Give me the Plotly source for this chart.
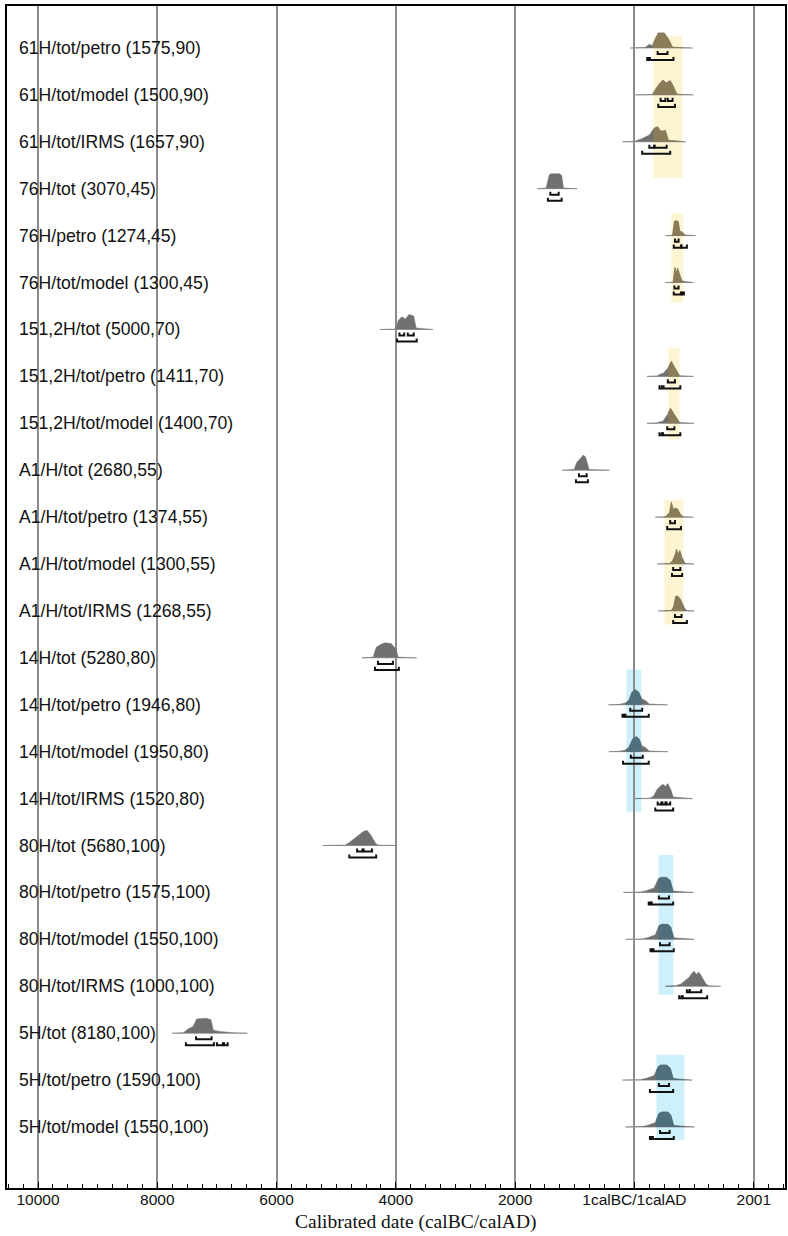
import numpy as np
import plotly.graph_objects as go

# ---------------- data ----------------
labels = [
    "61H/tot/petro (1575,90)", "61H/tot/model (1500,90)", "61H/tot/IRMS (1657,90)",
    "76H/tot (3070,45)", "76H/petro (1274,45)", "76H/tot/model (1300,45)",
    "151,2H/tot (5000,70)", "151,2H/tot/petro (1411,70)", "151,2H/tot/model (1400,70)",
    "A1/H/tot (2680,55)", "A1/H/tot/petro (1374,55)", "A1/H/tot/model (1300,55)",
    "A1/H/tot/IRMS (1268,55)", "14H/tot (5280,80)", "14H/tot/petro (1946,80)",
    "14H/tot/model (1950,80)", "14H/tot/IRMS (1520,80)", "80H/tot (5680,100)",
    "80H/tot/petro (1575,100)", "80H/tot/model (1550,100)", "80H/tot/IRMS (1000,100)",
    "5H/tot (8180,100)", "5H/tot/petro (1590,100)", "5H/tot/model (1550,100)",
]

# calibrated probability profiles (year AD, negative = BC) and relative heights
prof_x = [
    [-70, 180, 250, 300, 350, 400, 500, 570, 640, 975],
    [15, 300, 360, 420, 480, 530, 600, 650, 710, 990],
    [-200, 0, 120, 250, 330, 390, 440, 520, 570, 860],
    [-1630, -1480, -1430, -1400, -1260, -1220, -1190, -960],
    [520, 640, 670, 690, 735, 760, 800, 850, 1025],
    [520, 650, 665, 680, 700, 725, 760, 800, 990],
    [-4270, -4000, -3960, -3900, -3840, -3780, -3700, -3660, -3380],
    [210, 380, 430, 480, 560, 620, 660, 700, 760, 990],
    [210, 380, 430, 480, 550, 605, 650, 690, 760, 1000],
    [-1210, -1010, -970, -900, -860, -820, -790, -760, -420],
    [350, 520, 590, 620, 650, 680, 720, 770, 820, 990],
    [380, 590, 640, 690, 705, 730, 760, 800, 850, 1000],
    [400, 620, 660, 690, 720, 760, 800, 840, 880, 1000],
    [-4570, -4380, -4330, -4250, -4180, -4080, -4000, -3960, -3650],
    [-435, -250, -150, -90, -40, 20, 70, 120, 180, 250, 555],
    [-430, -250, -150, -90, -30, 30, 80, 120, 180, 250, 560],
    [15, 250, 320, 380, 440, 480, 520, 560, 610, 650, 975],
    [-5230, -4850, -4780, -4700, -4620, -4540, -4480, -4420, -4340, -4300, -3980],
    [-185, 100, 200, 260, 330, 400, 440, 540, 600, 650, 990],
    [-150, 130, 230, 290, 350, 410, 460, 560, 610, 660, 1000],
    [520, 690, 780, 860, 920, 960, 1000, 1040, 1080, 1120, 1200, 1250, 1445],
    [-7750, -7560, -7480, -7400, -7340, -7250, -7180, -7100, -7060, -6950, -6850, -6740, -6490],
    [-200, 100, 200, 260, 330, 400, 440, 540, 600, 650, 970],
    [-150, 130, 230, 290, 350, 410, 460, 560, 610, 660, 1010],
]
prof_h = [
    [0, 0.03, 0.25, 0.15, 0.6, 1, 1, 0.6, 0.05, 0],
    [0, 0.03, 0.4, 0.75, 1, 0.8, 0.95, 0.6, 0.05, 0],
    [0, 0.03, 0.2, 0.45, 0.9, 1, 0.7, 0.75, 0.1, 0],
    [0, 0.05, 0.9, 1, 1, 0.9, 0.05, 0],
    [0, 0.02, 0.95, 1, 0.95, 0.3, 0.25, 0.05, 0],
    [0, 0.02, 0.6, 1, 0.6, 0.95, 0.5, 0.1, 0],
    [0, 0.03, 0.6, 0.85, 0.7, 1, 0.9, 0.1, 0],
    [0, 0.03, 0.15, 0.2, 0.55, 1, 0.7, 0.45, 0.05, 0],
    [0, 0.03, 0.1, 0.15, 0.55, 1, 0.7, 0.45, 0.05, 0],
    [0, 0.05, 0.5, 0.8, 1, 0.9, 0.4, 0.05, 0],
    [0, 0.03, 0.3, 1, 0.5, 0.6, 0.55, 0.2, 0.03, 0],
    [0, 0.03, 0.2, 0.7, 1, 0.6, 0.9, 0.4, 0.05, 0],
    [0, 0.03, 0.3, 0.95, 1, 0.85, 0.55, 0.2, 0.03, 0],
    [0, 0.05, 0.7, 0.9, 1, 0.95, 0.6, 0.05, 0],
    [0, 0.03, 0.12, 0.3, 0.85, 1, 0.85, 0.4, 0.3, 0.05, 0],
    [0, 0.03, 0.12, 0.3, 0.85, 1, 0.85, 0.4, 0.3, 0.05, 0],
    [0, 0.03, 0.15, 0.6, 0.85, 0.95, 0.8, 1, 0.6, 0.1, 0],
    [0, 0.03, 0.2, 0.45, 0.7, 0.95, 1, 0.7, 0.15, 0.03, 0],
    [0, 0.03, 0.12, 0.2, 0.3, 0.9, 1, 1, 0.8, 0.1, 0],
    [0, 0.03, 0.12, 0.2, 0.3, 0.9, 1, 1, 0.8, 0.1, 0],
    [0, 0.03, 0.15, 0.4, 0.6, 0.85, 1, 0.8, 0.95, 0.7, 0.15, 0.03, 0],
    [0, 0.03, 0.3, 0.45, 0.95, 0.95, 1, 0.9, 0.2, 0.12, 0.08, 0.03, 0],
    [0, 0.03, 0.12, 0.2, 0.3, 0.9, 1, 1, 0.8, 0.1, 0],
    [0, 0.03, 0.12, 0.2, 0.3, 0.9, 1, 1, 0.8, 0.1, 0],
]

# highest posterior density ranges
range68 = [
    [(390, 555)], [(440, 520), (560, 640)], [(250, 330), (340, 540)],
    [(-1410, -1270)], [(680, 740)], [(670, 740)],
    [(-3940, -3860), (-3800, -3700)], [(560, 680)], [(550, 670)],
    [(-930, -800)], [(600, 680)], [(650, 770)], [(680, 790)],
    [(-4300, -4050)], [(-70, 130)], [(-60, 140)], [(390, 450), (470, 520), (540, 600)],
    [(-4650, -4560), (-4540, -4400)], [(410, 580)], [(430, 590)], [(880, 920), (930, 1120)],
    [(-7350, -7090)], [(410, 580)], [(430, 590)],
]
range95 = [
    [(215, 245), (260, 655)], [(400, 680)], [(130, 600)],
    [(-1450, -1220)], [(660, 780), (790, 880)], [(660, 780), (800, 830)],
    [(-3980, -3650)], [(420, 460), (490, 770)], [(420, 460), (480, 770)],
    [(-980, -780)], [(550, 780)], [(630, 800)], [(650, 880)],
    [(-4350, -3950)], [(-200, -170), (-150, 240)], [(-190, 240)], [(350, 650)],
    [(-4780, -4330)], [(240, 270), (290, 650)], [(270, 300), (320, 660)], [(750, 790), (810, 1220)],
    [(-7520, -7050), (-7000, -6900), (-6880, -6820)], [(260, 650)], [(260, 290), (310, 660)],
]

# highlighted bands: year range, row range, kind
band_x0 = [319, 620, 570, 503, -134, 403, 369]
band_x1 = [805, 822, 755, 822, 117, 654, 839]
band_r0 = [-0.26, 3.52, 6.39, 9.63, 13.25, 17.20, 21.46]
band_r1 = [2.77, 5.43, 8.35, 12.29, 16.28, 20.18, 23.27]
band_kind = ["y", "y", "y", "y", "b", "b", "b"]

tick_vals = [-10000, -8000, -6000, -4000, -2000, 0, 2001]
tick_text = ["10000", "8000", "6000", "4000", "2000", "1calBC/1calAD", "2001"]

# ---------------- styling ----------------
H = 0.32          # peak height in row units
OFF68 = 0.128
OFF95 = 0.256
TICK = 0.065
band_fill = {"y": "#fdf5d2", "b": "#cdf0fb"}
dist_fill = {"y": "#8b7c58", "b": "#4e6f7b"}
GRAY = "#707070"

fig = go.Figure()

shapes = []
for x0, x1, r0, r1, k in zip(band_x0, band_x1, band_r0, band_r1, band_kind):
    shapes.append(dict(type="rect", xref="x", yref="y", x0=x0, x1=x1, y0=r0, y1=r1,
                       fillcolor=band_fill[k], line=dict(width=0), layer="below"))

# baseline lines
lx, ly = [], []
for i, xs in enumerate(prof_x):
    lx += [xs[0], xs[-1], None]
    ly += [i, i, None]
fig.add_trace(go.Scatter(x=lx, y=ly, mode="lines", line=dict(color="#a8a8a8", width=1),
                         hoverinfo="skip", showlegend=False))

for i, (xs, hs) in enumerate(zip(prof_x, prof_h)):
    ys = [i - h * H for h in hs]
    fig.add_trace(go.Scatter(x=xs, y=ys, mode="lines", fill="toself", fillcolor=GRAY,
                             line=dict(color=GRAY, width=0.5), hoverinfo="skip", showlegend=False))
    # coloured part inside a highlighted band
    for x0, x1, r0, r1, k in zip(band_x0, band_x1, band_r0, band_r1, band_kind):
        if not (r0 < i < r1):
            continue
        a, b = max(x0, xs[0]), min(x1, xs[-1])
        if a >= b:
            continue
        cx = [a] + [x for x in xs if a < x < b] + [b]
        ch = list(np.interp(cx, xs, hs))
        cx = [a] + cx + [b]
        ch = [0] + ch + [0]
        fig.add_trace(go.Scatter(x=cx, y=[i - h * H for h in ch], mode="lines", fill="toself",
                                 fillcolor=dist_fill[k], line=dict(color=dist_fill[k], width=0.5),
                                 hoverinfo="skip", showlegend=False))

# brackets
bx, by = [], []
for i in range(len(labels)):
    for off, rngs in ((OFF68, range68[i]), (OFF95, range95[i])):
        yb = i + off
        for lo, hi in rngs:
            bx += [lo, lo, hi, hi, None]
            by += [yb - TICK, yb, yb, yb - TICK, None]
fig.add_trace(go.Scatter(x=bx, y=by, mode="lines", line=dict(color="#111111", width=2),
                         hoverinfo="skip", showlegend=False))

annotations = []
for i, lab in enumerate(labels):
    annotations.append(dict(text=lab, x=(17 - 7) / 780, xref="paper", y=i, yref="y",
                            xanchor="left", yanchor="middle", showarrow=False,
                            font=dict(family="Liberation Sans, Arial", size=17.6, color="#111")))
annotations.append(dict(text="Calibrated date (calBC/calAD)", x=(417 - 7) / 780, xref="paper",
                        y=-(1222 - 1188) / 1182, yref="paper", xanchor="center", yanchor="middle",
                        showarrow=False,
                        font=dict(family="Liberation Serif, Times New Roman", size=19.5, color="#111")))

fig.update_layout(
    width=788, height=1236,
    margin=dict(l=7, r=1, t=6, b=48),
    paper_bgcolor="white", plot_bgcolor="white",
    shapes=shapes, annotations=annotations,
    xaxis=dict(range=[-10520, 2525], tickvals=tick_vals, ticktext=tick_text,
               showgrid=True, gridcolor="#8c8c8c", gridwidth=1.5,
               showline=True, linecolor="black", linewidth=2, mirror=True,
               ticks="inside", ticklen=6, tickcolor="black", ticklabelstandoff=-4,
               minor=dict(dtick=250, tick0=0, ticks="inside", ticklen=4, tickcolor="black", showgrid=False),
               tickfont=dict(family="Liberation Sans, Arial", size=15.5, color="#111"),
               zeroline=False),
    yaxis=dict(range=[24.30, -0.895], showgrid=False, zeroline=False, showticklabels=False,
               ticks="", showline=True, linecolor="black", linewidth=1.5, mirror=True),
)

fig.write_html("out.html", post_script="document.body.style.margin='0';",
               config={"displayModeBar": False})
